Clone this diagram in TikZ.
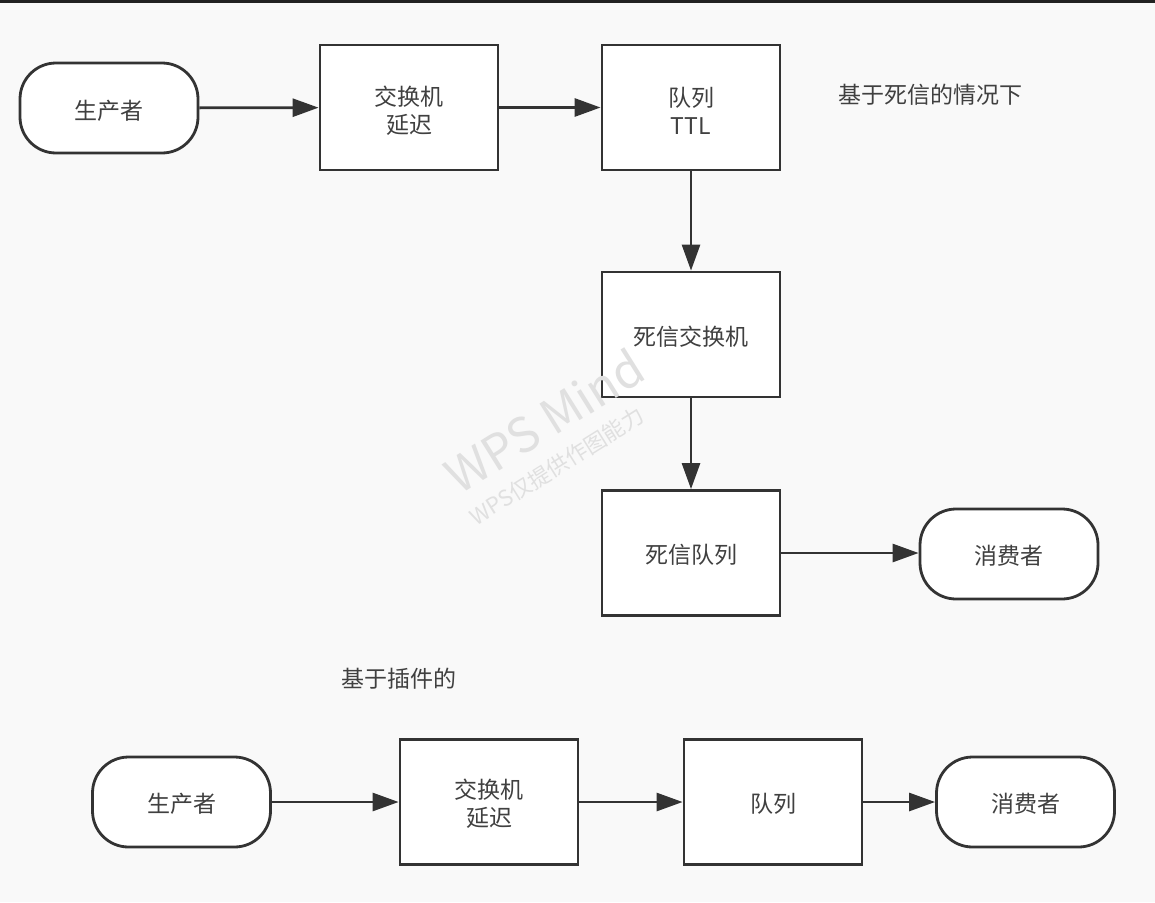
\documentclass[tikz,border=0pt]{standalone}
\usepackage{fontspec}
\setmainfont{Noto Sans CJK SC}
\usetikzlibrary{arrows.meta}
\definecolor{bg}{HTML}{F9F9F9}
\definecolor{ln}{HTML}{333333}
\definecolor{tx}{HTML}{404040}
\definecolor{wm}{HTML}{E0E0E0}
\definecolor{topline}{HTML}{222222}
\begin{document}
\begin{tikzpicture}[x=1pt,y=-1pt,
  box/.style={draw=ln, line width=2.8pt, fill=white, minimum width=178pt, minimum height=125pt, inner sep=0pt},
  term/.style={box, minimum height=90pt, rounded corners=36pt},
  arr/.style={draw=ln, line width=2.8pt, -{Triangle[length=26pt,width=18pt]}},
  lbl/.style={text=tx, inner sep=0pt, align=center, font=\fontsize{23}{28}\selectfont},
  wmark/.style={text=wm, inner sep=0pt, rotate=32}]
\fill[bg] (0,0) rectangle (1155,902);
\useasboundingbox (0,0) rectangle (1155,902);
\fill[topline] (0,0) rectangle (1155,2.7);

% top flow
\node[term] (p1) at (109,108) {};
\node[box] (e1) at (409,107.5) {};
\node[box] (q1) at (691,107.5) {};
\node[box] (dx) at (691,334.5) {};
\node[box] (dq) at (691,553) {};
\node[term] (c1) at (1009,554) {};
\node[lbl] (p1t) at ([yshift=-2.5pt]p1.center) {生产者};
\node[lbl] (e1t) at ([yshift=-3pt]e1.center) {交换机\\延迟};
\node[lbl] (q1t) at ([yshift=-3pt]q1.center) {队列\\TTL};
\node[lbl] (dxt) at ([yshift=-2pt]dx.center) {死信交换机};
\node[lbl] (dqt) at ([yshift=-2pt]dq.center) {死信队列};
\node[lbl] (c1t) at ([yshift=-2pt]c1.center) {消费者};
\node[lbl] (t1) at (930,95) {基于死信的情况下};

\draw[arr] (p1) -- (e1);
\draw[arr] (e1) -- (q1);
\draw[arr] (q1) -- (dx);
\draw[arr] (dx) -- (dq);
\draw[arr] (dq.east) -- (dq.east -| c1.west);

% bottom flow
\node[lbl] (t2) at (399,679) {基于插件的};
\node[term] (p2) at (181.5,802) {};
\node[box] (e2) at (489,802) {};
\node[box] (q2) at (773,802) {};
\node[term] (c2) at (1025.5,802) {};
\node[lbl] (p2t) at ([yshift=-2pt]p2.center) {生产者};
\node[lbl] (e2t) at ([yshift=-2pt]e2.center) {交换机\\延迟};
\node[lbl] (q2t) at ([yshift=-2pt]q2.center) {队列};
\node[lbl] (c2t) at ([yshift=-2pt]c2.center) {消费者};
\draw[arr] (p2) -- (e2);
\draw[arr] (e2) -- (q2);
\draw[arr] (q2) -- (c2);

% watermark
\node[wmark, font=\fontsize{48}{48}\selectfont] (w1) at (544,421) {WPS Mind};
\node[wmark, font=\fontsize{22}{22}\selectfont] (w2) at (557,466) {WPS仅提供作图能力};
\end{tikzpicture}
\end{document}
